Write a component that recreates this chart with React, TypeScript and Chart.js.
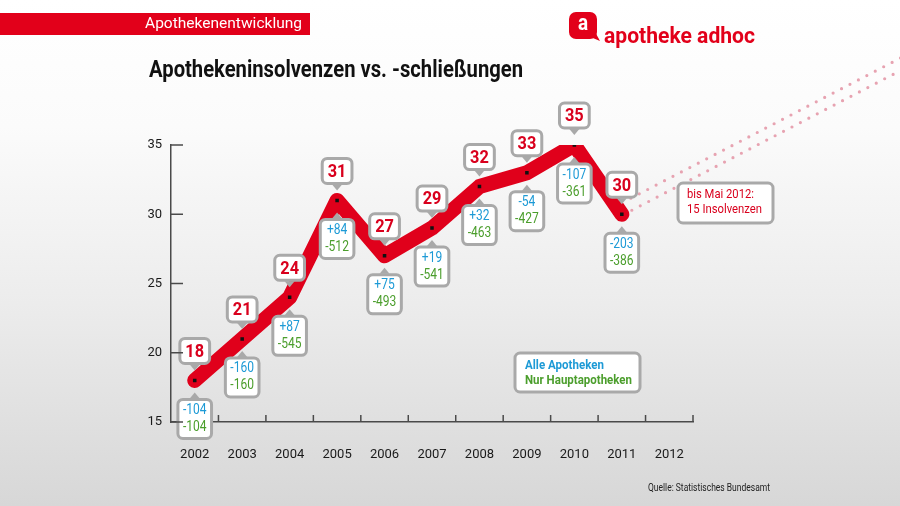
import React, { useEffect, useRef } from 'react';
import { Chart, registerables } from 'chart.js';

Chart.register(...registerables);

const years = ['2002', '2003', '2004', '2005', '2006', '2007', '2008', '2009', '2010', '2011', '2012'];
const insolvenzen: (number | null)[] = [18, 21, 24, 31, 27, 29, 32, 33, 35, 30, null];
const alleApotheken = ['-104', '-160', '+87', '+84', '+75', '+19', '+32', '-54', '-107', '-203'];
const hauptApotheken = ['-104', '-160', '-545', '-512', '-493', '-541', '-463', '-427', '-361', '-386'];
const yTickValues = [15, 20, 25, 30, 35];

const RED = '#d9001d';
const BLUE = '#1d9ad6';
const GREEN = '#4b9e2c';
const GREY = '#a9a9a9';
const AXIS = '#4a4a4a';
const FONT = "Roboto, 'Noto Sans', sans-serif";
const SX = 0.86;

function rr(ctx: CanvasRenderingContext2D, x: number, y: number, w: number, h: number, r: number) {
  ctx.beginPath();
  ctx.moveTo(x + r, y);
  ctx.arcTo(x + w, y, x + w, y + h, r);
  ctx.arcTo(x + w, y + h, x, y + h, r);
  ctx.arcTo(x, y + h, x, y, r);
  ctx.arcTo(x, y, x + w, y, r);
  ctx.closePath();
}

function drawBox(ctx: CanvasRenderingContext2D, x: number, y: number, w: number, h: number, pointer: 'up' | 'down' | null) {
  ctx.save();
  rr(ctx, x, y, w, h, 5);
  ctx.fillStyle = '#ffffff';
  ctx.fill();
  ctx.lineWidth = 3;
  ctx.strokeStyle = GREY;
  ctx.stroke();
  const cx = x + w / 2;
  ctx.fillStyle = GREY;
  if (pointer === 'down') {
    ctx.beginPath();
    ctx.moveTo(cx - 5, y + h + 1);
    ctx.lineTo(cx + 5, y + h + 1);
    ctx.lineTo(cx, y + h + 7);
    ctx.closePath();
    ctx.fill();
  } else if (pointer === 'up') {
    ctx.beginPath();
    ctx.moveTo(cx - 5, y - 1);
    ctx.lineTo(cx + 5, y - 1);
    ctx.lineTo(cx, y - 7);
    ctx.closePath();
    ctx.fill();
  }
  ctx.restore();
}

// draw text horizontally condensed; if target given, squeeze to that width
function txt(
  ctx: CanvasRenderingContext2D,
  text: string,
  x: number,
  y: number,
  size: number,
  weight: string,
  color: string,
  align: CanvasTextAlign,
  target?: number,
) {
  ctx.save();
  ctx.font = `${weight} ${size}px ${FONT}`;
  ctx.fillStyle = color;
  ctx.textAlign = align;
  ctx.textBaseline = 'middle';
  const w = ctx.measureText(text).width;
  const sx = target ? target / w : SX;
  ctx.translate(x, y);
  ctx.scale(sx, 1);
  ctx.fillText(text, 0, 0);
  ctx.restore();
  return w * sx;
}

function measure(ctx: CanvasRenderingContext2D, text: string, size: number, weight: string) {
  ctx.save();
  ctx.font = `${weight} ${size}px ${FONT}`;
  const w = ctx.measureText(text).width * SX;
  ctx.restore();
  return w;
}

const decorPlugin = {
  id: 'decor',
  beforeDraw(chart: any) {
    const ctx: CanvasRenderingContext2D = chart.ctx;
    const W = chart.width;
    const H = chart.height;
    ctx.save();
    const g = ctx.createLinearGradient(0, 0, 0, H);
    g.addColorStop(0, '#ffffff');
    g.addColorStop(0.25, '#fbfbfb');
    g.addColorStop(0.6, '#ececec');
    g.addColorStop(1, '#d7d7d7');
    ctx.fillStyle = g;
    ctx.fillRect(0, 0, W, H);

    // header bar
    ctx.fillStyle = '#e2001a';
    ctx.fillRect(0, 13, 310, 22);
    ctx.restore();
    txt(ctx, 'Apothekenentwicklung', 145, 24.5, 15, 'normal', '#ffffff', 'left', 157);

    // logo
    ctx.save();
    ctx.fillStyle = '#e2001a';
    rr(ctx, 569, 12, 28, 27, 7);
    ctx.fill();
    ctx.beginPath();
    ctx.moveTo(588, 36);
    ctx.lineTo(600, 41);
    ctx.lineTo(594, 30);
    ctx.closePath();
    ctx.fill();
    ctx.restore();
    txt(ctx, 'a', 583, 24, 22, 'bold', '#ffffff', 'center');
    txt(ctx, 'apotheke adhoc', 604, 37, 22, 'bold', '#e2001a', 'left', 151);

    // title
    txt(ctx, 'Apothekeninsolvenzen vs. -schließungen', 149, 71, 24, 'bold', '#111111', 'left', 374);

    // source
    txt(ctx, 'Quelle: Statistisches Bundesamt', 648, 488, 11.5, 'normal', '#222222', 'left', 122);
  },
  beforeDatasetsDraw(chart: any) {
    const ctx: CanvasRenderingContext2D = chart.ctx;
    const meta = chart.getDatasetMeta(0);
    const p = meta.data[9];
    if (!p) return;
    ctx.save();
    ctx.strokeStyle = '#e7a3b1';
    ctx.lineWidth = 3.2;
    ctx.lineCap = 'round';
    ctx.setLineDash([0, 9.5]);
    const slope = -0.52;
    const starts = [
      [p.x + 10, p.y - 4],
      [p.x + 9, p.y - 16],
    ];
    for (const [sx, sy] of starts) {
      ctx.beginPath();
      ctx.moveTo(sx, sy);
      ctx.lineTo(chart.width + 10, sy + slope * (chart.width + 10 - sx));
      ctx.stroke();
    }
    ctx.restore();
  },
  afterDatasetsDraw(chart: any) {
    const ctx: CanvasRenderingContext2D = chart.ctx;
    const meta = chart.getDatasetMeta(0);
    insolvenzen.forEach((v, i) => {
      if (v === null) return;
      const p = meta.data[i];
      // top box
      const t = String(v);
      const tw = measure(ctx, t, 19, 'bold') + 11;
      const th = 25;
      drawBox(ctx, p.x - tw / 2, p.y - 17 - th, tw, th, 'down');
      txt(ctx, t, p.x, p.y - 17 - th / 2 + 1, 19, 'bold', RED, 'center');
      // bottom box
      const a = alleApotheken[i];
      const h = hauptApotheken[i];
      const bw = Math.max(measure(ctx, a, 14, 'normal'), measure(ctx, h, 14, 'normal')) + 10;
      const bh = 39;
      const by = p.y + 19;
      drawBox(ctx, p.x - bw / 2, by, bw, bh, 'up');
      txt(ctx, a, p.x, by + 11, 14, 'normal', BLUE, 'center');
      txt(ctx, h, p.x, by + 28, 14, 'normal', GREEN, 'center');
    });

    // legend box
    drawBox(ctx, 515, 353, 125, 39, null);
    txt(ctx, 'Alle Apotheken', 525, 366, 13, 'bold', BLUE, 'left', 79);
    txt(ctx, 'Nur Hauptapotheken', 525, 381, 13, 'bold', GREEN, 'left', 107);

    // note box
    drawBox(ctx, 678, 183, 95, 40, null);
    txt(ctx, 'bis Mai 2012:', 687, 195, 13.5, 'normal', RED, 'left', 67);
    txt(ctx, '15 Insolvenzen', 687, 210, 13.5, 'normal', RED, 'left', 75);
  },
  afterDraw(chart: any) {
    const ctx: CanvasRenderingContext2D = chart.ctx;
    const { left, right, bottom } = chart.chartArea;
    const ys = chart.scales.y;
    ctx.save();
    ctx.strokeStyle = AXIS;
    ctx.lineWidth = 1.5;
    yTickValues.forEach((v) => {
      const y = ys.getPixelForValue(v);
      ctx.beginPath();
      ctx.moveTo(left, y);
      ctx.lineTo(left + 12, y);
      ctx.stroke();
    });
    const n = years.length;
    const step = (right - left) / n;
    for (let i = 1; i <= n; i++) {
      const x = left + i * step;
      ctx.beginPath();
      ctx.moveTo(x, bottom);
      ctx.lineTo(x, bottom - 7);
      ctx.stroke();
    }
    ctx.restore();
  },
};

export default function App() {
  const ref = useRef<HTMLCanvasElement | null>(null);
  useEffect(() => {
    if (!ref.current) return;
    const chart = new Chart(ref.current, {
      type: 'line',
      data: {
        labels: years,
        datasets: [
          {
            data: insolvenzen,
            borderColor: '#e0001b',
            borderWidth: 15,
            borderJoinStyle: 'round',
            borderCapStyle: 'round',
            tension: 0,
            pointStyle: 'rect',
            pointRadius: 2.5,
            pointBackgroundColor: '#111111',
            pointBorderWidth: 0,
            spanGaps: false,
          } as any,
        ],
      },
      options: {
        responsive: false,
        animation: false,
        events: [],
        layout: { padding: { left: 0, top: 145, right: 207, bottom: 0 } },
        plugins: { legend: { display: false }, tooltip: { enabled: false } },
        scales: {
          x: {
            type: 'category',
            offset: true,
            grid: { display: false, drawTicks: false },
            border: { display: true, color: AXIS, width: 1.5 },
            ticks: { color: '#1a1a1a', padding: 25, font: { family: FONT, size: 13 } },
            afterFit: (s: any) => {
              s.height = 84;
            },
          },
          y: {
            min: 15,
            max: 35,
            grid: { display: false, drawTicks: false },
            border: { display: true, color: AXIS, width: 1.5 },
            ticks: { stepSize: 5, color: '#1a1a1a', padding: 9, font: { family: FONT, size: 13 } },
            afterFit: (s: any) => {
              s.width = 171;
            },
          },
        },
      } as any,
      plugins: [decorPlugin],
    });
    return () => chart.destroy();
  }, []);
  return (
    <div style={{ position: 'fixed', left: 0, top: 0, width: 900, height: 506 }}>
      <canvas ref={ref} width={900} height={506} style={{ width: 900, height: 506, display: 'block' }} />
    </div>
  );
}
